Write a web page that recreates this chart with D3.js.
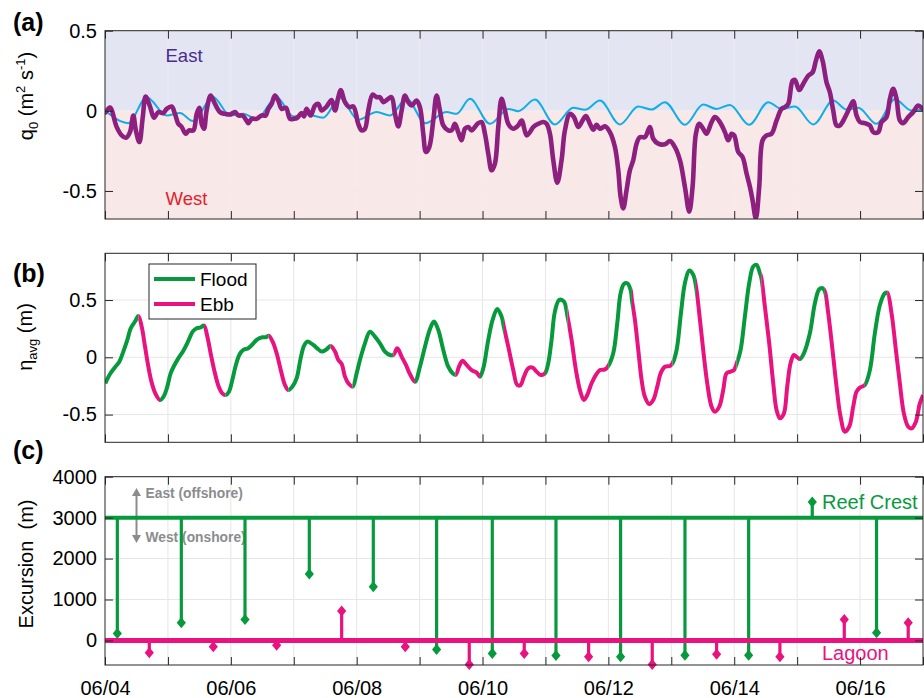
<!DOCTYPE html>
<html><head><meta charset="utf-8">
<script src="https://cdn.jsdelivr.net/npm/d3@7"></script>
<style>
body{margin:0;background:#fff}
text{font-family:"Liberation Sans",Arial,Helvetica,sans-serif}
</style>
</head><body>
<svg id="chart" width="924" height="698"></svg>
<script>
// ---------------- DATA ----------------
// time = days since 06/04 00:00
const dayTicks = d3.range(0, 14);
const dateLabels = ["06/04","06/06","06/08","06/10","06/12","06/14","06/16"];
const qTicks = [-0.5, 0, 0.5];
const etaTicks = [-0.5, 0, 0.5];
const excTicks = [0, 1000, 2000, 3000, 4000];

// (a) observed q0 (purple)
const qObsT = [0.01,0.08,0.185,0.265,0.334,0.397,0.45,0.49,0.546,0.60,0.646,0.715,0.779,0.847,0.927,0.98,1.059,1.112,1.165,1.218,1.282,1.335,1.404,1.457,1.499,1.536,1.573,1.615,1.679,1.748,1.827,1.907,1.986,2.066,2.119,2.187,2.24,2.277,2.33,2.41,2.49,2.553,2.595,2.648,2.70,2.754,2.807,2.876,2.94,3.003,3.056,3.125,3.162,3.204,3.268,3.337,3.39,
3.443,3.522,3.602,3.655,3.708,3.745,3.814,3.882,3.946,4.025,4.078,4.131,4.184,4.253,4.317,4.37,4.423,4.502,4.555,4.608,4.661,4.714,4.767,4.82,4.873,4.952,5.005,5.058,5.1,5.154,5.217,5.27,5.323,5.376,5.455,5.508,5.561,5.614,5.667,5.72,5.773,5.826,5.879,5.932,5.985,6.038,6.091,6.144,6.197,6.25,6.303,6.356,6.409,6.488,6.568,6.621,6.7,6.753,6.806,6.886,6.965,7.018,7.071,7.124,7.188,7.256,7.309,7.389,7.452,7.521,7.59,7.643,7.707,7.76,7.813,7.866,
7.945,8.024,8.104,8.157,8.194,8.236,8.289,8.342,8.395,8.448,8.501,8.58,8.66,8.713,8.792,8.898,8.978,9.057,9.137,9.216,9.285,9.338,9.391,9.444,9.507,9.56,9.64,9.693,9.772,9.852,9.905,9.958,10.0,10.064,10.132,10.196,10.249,10.291,10.344,10.397,10.45,10.514,10.593,10.673,10.752,10.805,10.858,10.927,10.964,11.033,11.096,11.176,11.245,11.298,11.351,11.404,11.467,11.52,11.573,11.626,11.679,11.758,11.838,11.891,11.944,11.997,12.076,12.156,12.209,12.288,12.341,12.42,12.474,12.527,12.579,12.632,12.685,12.765,12.844,12.924,12.993];
const qObsV = [-0.01,0.02,-0.10,-0.153,-0.168,-0.133,-0.029,-0.122,-0.195,-0.04,0.089,0.027,-0.043,-0.008,-0.014,0.012,0.027,-0.019,-0.081,-0.10,-0.143,-0.122,-0.122,-0.019,0.019,-0.081,-0.112,0.002,0.095,0.043,-0.008,-0.019,-0.023,-0.008,-0.029,-0.029,-0.056,-0.077,-0.05,-0.05,-0.029,-0.029,0.012,0.043,0.095,0.064,0.012,0.019,-0.05,-0.05,-0.043,-0.014,-0.035,0.012,-0.029,0.033,0.043,
0.002,0.027,0.068,0.002,0.085,0.13,0.054,0.023,0.027,-0.081,-0.122,-0.112,0.002,0.101,0.085,0.085,0.054,0.075,0.085,-0.019,-0.097,0.002,0.095,0.054,0.033,0.064,0.023,-0.143,-0.257,-0.226,-0.06,0.095,0.002,-0.091,-0.122,-0.122,-0.081,-0.133,-0.184,-0.112,-0.101,-0.122,-0.101,-0.077,-0.07,-0.143,-0.267,-0.371,-0.329,-0.101,0.075,0.002,-0.081,-0.112,-0.091,-0.06,-0.153,-0.133,-0.101,-0.081,-0.07,-0.081,-0.143,-0.308,-0.449,-0.308,-0.122,-0.019,-0.039,-0.101,-0.06,-0.033,-0.081,-0.118,-0.087,-0.112,
-0.097,-0.133,-0.226,-0.371,-0.536,-0.609,-0.495,-0.371,-0.308,-0.205,-0.164,-0.164,-0.101,-0.174,-0.205,-0.209,-0.188,-0.226,-0.308,-0.474,-0.629,-0.474,-0.143,-0.081,-0.112,-0.143,-0.07,-0.039,-0.07,-0.133,-0.184,-0.143,-0.153,-0.257,-0.288,-0.391,-0.474,-0.557,-0.671,-0.474,-0.184,-0.153,-0.143,-0.06,0.012,0.023,0.043,0.188,0.193,0.13,0.168,0.219,0.24,0.313,0.371,0.313,0.178,0.116,0.002,-0.091,-0.091,-0.043,0.023,0.06,-0.029,-0.07,-0.077,-0.091,-0.133,-0.133,-0.07,-0.039,0.075,0.137,0.075,-0.06,-0.077,-0.039,-0.008,0.033,0.012];

// (a) tidal q0 (cyan)
const qTideT = [0.0,0.371,0.662,0.98,1.192,1.393,1.721,1.986,2.198,2.41,2.728,2.993,3.2,3.469,3.734,4.025,4.317,4.529,4.794,5.09,5.429,5.588,5.8,6.118,6.409,6.568,6.833,7.15,7.441,7.627,7.866,8.183,8.475,8.686,8.898,9.216,9.507,9.719,9.931,10.238,10.54,10.752,10.964,11.257,11.573,11.785,11.97,12.262,12.553,12.818,13.0];
const qTideV = [0.002,-0.077,0.085,-0.029,-0.014,-0.064,0.085,-0.029,-0.019,-0.05,0.085,-0.035,-0.022,-0.043,0.08,-0.056,-0.008,-0.029,0.075,-0.077,-0.008,-0.019,0.075,-0.081,0.012,-0.002,0.07,-0.085,0.019,0.006,0.064,-0.085,0.027,0.008,0.054,-0.087,0.039,0.012,0.037,-0.087,0.054,0.012,0.027,-0.085,0.064,0.008,0.019,-0.081,0.072,0.002,0.006];

// (b) eta_avg
const etaT = [0.005,0.08,0.159,0.228,0.291,0.355,0.408,0.477,0.53,0.583,0.636,0.689,0.742,0.805,0.874,0.937,0.99,1.043,1.096,1.165,1.245,1.324,1.393,1.457,1.52,1.573,1.626,1.679,1.748,1.811,1.864,1.917,1.97,2.023,2.076,2.134,2.198,2.277,2.346,2.42,2.5,2.558,2.601,2.664,2.728,2.797,2.86,2.913,2.977,3.045,3.109,3.162,3.215,3.31,3.39,3.443,3.522,3.586,3.655,3.708,3.761,3.814,3.867,3.935,3.999,4.052,4.131,4.211,4.29,4.37,4.449,4.529,4.582,4.645,4.714,4.783,4.846,4.926,5.005,5.085,5.164,5.228,5.297,5.376,5.455,5.524,5.572,5.63,5.683,5.747,5.826,5.906,5.959,6.012,6.091,6.16,6.234,6.303,6.34,6.409,6.488,6.552,6.605,6.658,6.727,6.796,6.859,6.923,6.992,7.044,7.097,7.15,7.219,7.293,7.352,7.415,7.484,7.548,7.611,7.664,7.733,7.802,7.866,7.945,7.998,8.077,8.141,8.194,8.247,8.3,8.353,8.374,8.422,8.475,8.528,8.58,8.649,8.713,8.777,8.83,8.898,8.978,9.02,9.084,9.153,9.216,9.285,9.349,9.391,9.444,9.507,9.571,9.64,9.693,9.762,9.825,9.878,9.942,9.995,10.037,10.101,10.169,10.238,10.302,10.355,10.408,10.429,10.487,10.556,10.62,10.673,10.726,10.789,10.842,10.895,10.948,11.001,11.044,11.107,11.202,11.282,11.351,11.404,11.441,11.494,11.562,11.626,11.69,11.758,11.827,11.891,11.944,11.997,12.076,12.156,12.235,12.315,12.394,12.431,12.5,12.569,12.632,12.696,12.765,12.818,12.887,12.95,13.003];
const etaV = [-0.227,-0.146,-0.087,-0.038,0.05,0.152,0.253,0.312,0.361,0.268,0.093,-0.082,-0.221,-0.321,-0.373,-0.338,-0.256,-0.14,-0.076,-0.009,0.058,0.143,0.224,0.253,0.262,0.277,0.181,0.035,-0.14,-0.262,-0.315,-0.329,-0.3,-0.198,-0.076,0.02,0.064,0.079,0.114,0.157,0.175,0.175,0.189,0.137,0.035,-0.119,-0.242,-0.286,-0.256,-0.184,-0.009,0.099,0.137,0.108,0.07,0.05,0.07,0.099,0.05,-0.023,-0.058,-0.169,-0.227,-0.256,-0.14,-0.023,0.122,0.224,0.181,0.122,0.05,0.02,0.02,0.079,0.006,-0.067,-0.146,-0.213,-0.082,0.093,0.245,0.312,0.239,0.064,-0.082,-0.14,-0.154,-0.076,-0.029,-0.067,-0.111,-0.134,-0.169,-0.096,0.152,0.326,0.422,0.355,0.262,0.093,-0.111,-0.242,-0.242,-0.169,-0.096,-0.09,-0.125,-0.154,-0.14,-0.052,0.152,0.399,0.501,0.487,0.35,0.152,-0.111,-0.286,-0.373,-0.329,-0.227,-0.154,-0.111,-0.105,-0.076,0.035,0.297,0.559,0.641,0.647,0.589,0.501,0.326,0.064,-0.198,-0.344,-0.408,-0.373,-0.256,-0.14,-0.082,-0.076,-0.052,0.064,0.385,0.647,0.758,0.72,0.624,0.385,0.064,-0.227,-0.431,-0.475,-0.431,-0.286,-0.14,-0.125,-0.111,-0.058,0.064,0.355,0.647,0.793,0.807,0.734,0.699,0.443,0.122,-0.227,-0.46,-0.533,-0.49,-0.256,-0.052,0.02,0,-0.015,0.035,0.21,0.472,0.594,0.603,0.574,0.385,0.064,-0.256,-0.519,-0.65,-0.606,-0.431,-0.3,-0.265,-0.242,-0.111,0.21,0.457,0.559,0.565,0.385,0.064,-0.227,-0.49,-0.606,-0.621,-0.562,-0.402,-0.329];
const floodStart = [0,0.874,1.917,2.913,3.935,4.926,5.959,6.992,7.998,9.02,10.037,11.044,12.076];
const ebbStart   = [0.53,1.573,2.601,3.586,4.582,5.572,6.34,7.352,8.374,9.391,10.429,11.441,12.431];

// (c) excursions
const crestLevel = 3000, lagoonLevel = 0;
const crestT = [0.196,1.213,2.225,3.247,4.264,5.27,6.155,7.167,8.194,9.217,10.229,11.24,12.262];
const crestV = [170,430,510,1620,1310,-220,-320,-370,-400,-360,-360,3380,190];
const lagoonT = [0.704,1.721,2.728,3.761,4.772,5.789,6.663,7.686,8.697,9.72,10.726,11.749,12.765];
const lagoonV = [-300,-155,-115,720,-155,-590,-320,-400,-590,-335,-400,510,430];

// ---------------- STYLE ----------------
const C = {purple:"#8d1f7f", cyan:"#10aee8", green:"#079a3d", pink:"#e8137f",
  lav:"#e4e5f3", rose:"#f8e8e8", grid:"#e6e6e6", axis:"#262626", gray:"#8a8c8f"};
const FS = 20;

const svg = d3.select("#chart");
const L = 105, R = 923;
const x = d3.scaleLinear().domain([0, 13]).range([L, R]);

const P = {
  a: {top: 30.7, bottom: 219, domain: [-0.675, 0.5]},
  b: {top: 253.3, bottom: 442.3, domain: [-0.742, 0.908]},
  c: {top: 476.7, bottom: 665, domain: [-600, 4000]}
};
for (const k in P) P[k].y = d3.scaleLinear().domain(P[k].domain).range([P[k].bottom, P[k].top]);

const defs = svg.append("defs");
function clipRect(id, x0, x1, y0, y1) {
  defs.append("clipPath").attr("id", id).append("rect")
    .attr("x", x0).attr("y", y0).attr("width", x1 - x0).attr("height", y1 - y0);
  return `url(#${id})`;
}

function grid(p, yTicks, color) {
  const g = svg.append("g");
  g.selectAll("line.v").data(dayTicks.slice(1, -1)).join("line")
    .attr("x1", d => x(d)).attr("x2", d => x(d)).attr("y1", p.top).attr("y2", p.bottom)
    .attr("stroke", color || C.grid).attr("stroke-width", 1);
  g.selectAll("line.h").data(yTicks).join("line")
    .attr("x1", L).attr("x2", R).attr("y1", d => p.y(d)).attr("y2", d => p.y(d))
    .attr("stroke", color || C.grid).attr("stroke-width", 1);
}

function frame(p, yTicks, yFmt, withDates) {
  const style = g => {
    g.select(".domain").remove();
    g.attr("color", C.axis);
    g.selectAll("text").attr("font-size", FS).attr("fill", "#000")
      .attr("font-family", '"Liberation Sans", Arial, sans-serif');
  };
  svg.append("g").attr("transform", `translate(0,${p.bottom})`)
    .call(d3.axisBottom(x).tickValues(dayTicks).tickSize(-8).tickPadding(16)
      .tickFormat(d => (withDates && d % 2 === 0) ? dateLabels[d / 2] : ""))
    .call(style);
  svg.append("g").attr("transform", `translate(0,${p.top})`)
    .call(d3.axisTop(x).tickValues(dayTicks).tickSize(-8).tickFormat(""))
    .call(style);
  svg.append("g").attr("transform", `translate(${L},0)`)
    .call(d3.axisLeft(p.y).tickValues(yTicks).tickSize(-8).tickPadding(8).tickFormat(yFmt))
    .call(style);
  svg.append("g").attr("transform", `translate(${R},0)`)
    .call(d3.axisRight(p.y).tickValues(yTicks).tickSize(-8).tickFormat(""))
    .call(style);
  svg.append("rect").attr("x", L).attr("y", p.top).attr("width", R - L).attr("height", p.bottom - p.top)
    .attr("fill", "none").attr("stroke", C.axis).attr("stroke-width", 1);
}

const fmtNum = d => d === 0 ? "0" : String(d);

// ---------------- PANEL (a) ----------------
{
  const p = P.a, y = p.y;
  svg.append("rect").attr("x", L).attr("y", y(0.5)).attr("width", R - L).attr("height", y(0) - y(0.5)).attr("fill", C.lav);
  svg.append("rect").attr("x", L).attr("y", y(0)).attr("width", R - L).attr("height", p.bottom - y(0)).attr("fill", C.rose);
  grid(p, qTicks, "rgba(255,255,255,0.55)");
  grid(p, qTicks, "rgba(200,200,200,0.18)");
  const clip = clipRect("clipA", L, R, p.top, p.bottom);
  const tide = qTideT.map((t, i) => [t, qTideV[i]]);
  const obs = qObsT.map((t, i) => [t, qObsV[i]]);
  svg.append("path").datum(tide).attr("clip-path", clip)
    .attr("d", d3.line().x(d => x(d[0])).y(d => y(d[1])).curve(d3.curveMonotoneX))
    .attr("fill", "none").attr("stroke", C.cyan).attr("stroke-width", 2);
  svg.append("path").datum(obs).attr("clip-path", clip)
    .attr("d", d3.line().x(d => x(d[0])).y(d => y(d[1])).curve(d3.curveCatmullRom.alpha(0.5)))
    .attr("fill", "none").attr("stroke", C.purple).attr("stroke-width", 4.6)
    .attr("stroke-linejoin", "round").attr("stroke-linecap", "round");
  svg.append("text").attr("x", 165.5).attr("y", 61.5).attr("font-size", 18.5).attr("fill", "#4b2c8e").text("East");
  svg.append("text").attr("x", 165.5).attr("y", 205).attr("font-size", 18.5).attr("fill", "#e5202a").text("West");
  frame(p, qTicks, fmtNum, false);
  // y label
  const t = svg.append("text").attr("transform", "translate(33,96) rotate(-90)")
    .attr("text-anchor", "middle").attr("font-size", FS).attr("fill", "#000");
  t.append("tspan").text("q");
  t.append("tspan").attr("dy", 5).attr("font-size", 13).text("0");
  t.append("tspan").attr("dy", -5).text(" (m");
  t.append("tspan").attr("dy", -8).attr("font-size", 13).text("2");
  t.append("tspan").attr("dy", 8).text(" s");
  t.append("tspan").attr("dy", -8).attr("font-size", 13).text("-1");
  t.append("tspan").attr("dy", 8).text(")");
  svg.append("text").attr("x", 13).attr("y", 31).attr("font-size", 25).attr("font-weight", "bold").text("(a)");
}

// ---------------- PANEL (b) ----------------
{
  const p = P.b, y = p.y;
  grid(p, etaTicks);
  const pts = etaT.map((t, i) => [t, etaV[i]]);
  const events = floodStart.map(t => ({t, c: C.green})).concat(ebbStart.map(t => ({t, c: C.pink})))
    .sort((a, b) => a.t - b.t);
  const line = d3.line().x(d => x(d[0])).y(d => y(d[1])).curve(d3.curveCatmullRom.alpha(0.5));
  events.forEach((e, i) => {
    const t1 = i < events.length - 1 ? events[i + 1].t : 13;
    const x0 = Math.max(L, x(e.t)), x1 = Math.min(R, x(t1));
    const clip = clipRect("clipB" + i, x0, x1, p.top, p.bottom);
    svg.append("path").datum(pts).attr("clip-path", clip).attr("d", line)
      .attr("fill", "none").attr("stroke", e.c).attr("stroke-width", 4)
      .attr("stroke-linejoin", "round");
  });
  frame(p, etaTicks, fmtNum, false);
  // legend
  const lg = svg.append("g");
  lg.append("rect").attr("x", 149).attr("y", 264).attr("width", 107).attr("height", 55)
    .attr("fill", "#fff").attr("stroke", C.axis).attr("stroke-width", 1);
  [["Flood", C.green, 279], ["Ebb", C.pink, 304]].forEach(([lab, col, yy]) => {
    lg.append("line").attr("x1", 154).attr("x2", 195).attr("y1", yy).attr("y2", yy)
      .attr("stroke", col).attr("stroke-width", 4);
    lg.append("text").attr("x", 200).attr("y", yy + 7).attr("font-size", 19).text(lab);
  });
  const t = svg.append("text").attr("transform", "translate(32,337) rotate(-90)")
    .attr("text-anchor", "middle").attr("font-size", FS).attr("fill", "#000");
  t.append("tspan").text("η");
  t.append("tspan").attr("dy", 5).attr("font-size", 13).text("avg");
  t.append("tspan").attr("dy", -5).text(" (m)");
  svg.append("text").attr("x", 13).attr("y", 282).attr("font-size", 25).attr("font-weight", "bold").text("(b)");
}

// ---------------- PANEL (c) ----------------
{
  const p = P.c, y = p.y;
  grid(p, excTicks);
  // annotation arrow
  const ax = 136.5;
  svg.append("line").attr("x1", ax).attr("x2", ax).attr("y1", 494).attr("y2", 537)
    .attr("stroke", C.gray).attr("stroke-width", 2);
  svg.append("path").attr("d", `M${ax},488 L${ax - 4.5},496 L${ax + 4.5},496 Z`).attr("fill", C.gray);
  svg.append("path").attr("d", `M${ax},543 L${ax - 4.5},535 L${ax + 4.5},535 Z`).attr("fill", C.gray);
  svg.append("text").attr("x", 145.5).attr("y", 498.3).attr("font-size", 13.8).attr("font-weight", "bold")
    .attr("fill", C.gray).text("East (offshore)");
  svg.append("text").attr("x", 145.5).attr("y", 541.7).attr("font-size", 13.8).attr("font-weight", "bold")
    .attr("fill", C.gray).text("West (onshore)");

  const diamond = (cx, cy) => `M${cx},${cy - 5.5} L${cx + 4.6},${cy} L${cx},${cy + 5.5} L${cx - 4.6},${cy} Z`;
  // reference lines
  svg.append("line").attr("x1", L).attr("x2", R).attr("y1", y(crestLevel)).attr("y2", y(crestLevel))
    .attr("stroke", C.green).attr("stroke-width", 4);
  // crest stems
  const cs = crestT.map((t, i) => [t, crestV[i]]);
  svg.append("g").selectAll("line").data(cs).join("line")
    .attr("x1", d => x(d[0])).attr("x2", d => x(d[0]))
    .attr("y1", y(crestLevel)).attr("y2", d => y(d[1]))
    .attr("stroke", C.green).attr("stroke-width", 3.2);
  svg.append("g").selectAll("path").data(cs).join("path")
    .attr("d", d => diamond(x(d[0]), y(d[1]))).attr("fill", C.green);
  // lagoon stems
  const ls = lagoonT.map((t, i) => [t, lagoonV[i]]);
  svg.append("line").attr("x1", L).attr("x2", R).attr("y1", y(lagoonLevel)).attr("y2", y(lagoonLevel))
    .attr("stroke", C.pink).attr("stroke-width", 5);
  svg.append("g").selectAll("line").data(ls).join("line")
    .attr("x1", d => x(d[0])).attr("x2", d => x(d[0]))
    .attr("y1", y(lagoonLevel)).attr("y2", d => y(d[1]))
    .attr("stroke", C.pink).attr("stroke-width", 3.2);
  svg.append("g").selectAll("path").data(ls).join("path")
    .attr("d", d => diamond(x(d[0]), y(d[1]))).attr("fill", C.pink);

  svg.append("text").attr("x", 822).attr("y", 509).attr("font-size", FS).attr("fill", C.green).text("Reef Crest");
  svg.append("text").attr("x", 822).attr("y", 660).attr("font-size", FS).attr("fill", C.pink).text("Lagoon");

  frame(p, excTicks, fmtNum, true);
  svg.append("text").attr("transform", "translate(33,564) rotate(-90)")
    .attr("text-anchor", "middle").attr("font-size", FS).attr("fill", "#000")
    .attr("xml:space", "preserve").style("white-space", "pre").text("Excursion  (m)");
  svg.append("text").attr("x", 13).attr("y", 459).attr("font-size", 25).attr("font-weight", "bold").text("(c)");
}
</script>
</body></html>
